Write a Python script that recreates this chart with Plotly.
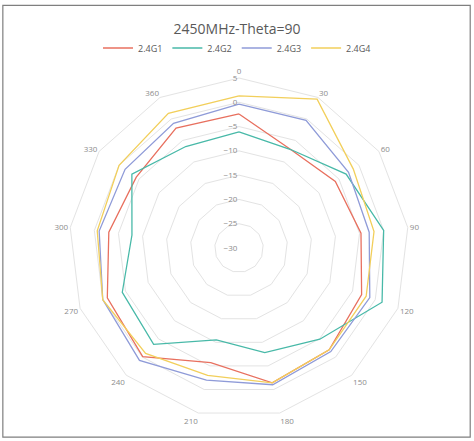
import plotly.graph_objects as go

categories = ["0", "30", "60", "90", "120", "150", "180", "210", "240", "270", "300", "330", "360"]
series_names = ["2.4G1", "2.4G2", "2.4G3", "2.4G4"]
g1 = [-2.4, -7.1, -5.9, -4.7, -3.0, -2.0, -1.4, -5.7, -0.1, -1.0, -3.0, -4.3, -2.1]
g2 = [-6.1, -7.1, -3.2, 0.0, 1.5, -4.9, -7.8, -10.5, -3.5, -4.3, -7.8, -3.2, -6.4]
g3 = [-0.4, -0.3, -2.6, -3.0, -1.2, -1.5, -1.0, -2.0, 0.9, 0.0, -1.0, -1.5, -1.0]
g4 = [1.3, 4.6, -1.4, -2.0, -2.0, -2.0, -1.4, -3.0, -1.0, 0.0, -0.6, 0.0, 1.3]
radial_ticks = [-30, -25, -20, -15, -10, -5, 0, 5]

colors = ["#E8705F", "#48B9A8", "#8F9BD8", "#F2CF5B"]

W, H = 474, 441
cx, cy, R = 239, 248, 170

fig = go.Figure()
for name, vals, col in zip(series_names, [g1, g2, g3, g4], colors):
    fig.add_trace(go.Scatterpolar(
        r=vals + vals[:1], theta=categories + categories[:1],
        mode="lines", name=name, line=dict(color=col, width=1.3),
    ))

fig.update_layout(
    width=W, height=H,
    margin=dict(l=0, r=0, t=0, b=0),
    paper_bgcolor="white", plot_bgcolor="white",
    font=dict(family="Open Sans", color="#595959"),
    title=dict(text="2450MHz-Theta=90", x=0.5, xanchor="center",
               y=1 - 29 / H, yanchor="middle",
               font=dict(size=14, color="#595959")),
    legend=dict(orientation="h", x=0.5, xanchor="center", y=1 - 48 / H, yanchor="middle",
                font=dict(size=9, color="#595959"), itemwidth=30, tracegroupgap=0),
    polar=dict(
        domain=dict(x=[(cx - R) / W, (cx + R) / W], y=[(H - cy - R) / H, (H - cy + R) / H]),
        bgcolor="white",
        gridshape="linear",
        angularaxis=dict(type="category", rotation=90, direction="clockwise",
                         showgrid=False, showline=True, linecolor="#E3E3E3",
                         ticks="", tickfont=dict(size=8, color="#8C8C8C")),
        radialaxis=dict(range=[-30, 5], tickvals=radial_ticks, angle=90, tickangle=90,
                        side="counterclockwise", showline=False, ticks="",
                        gridcolor="#E3E3E3", tickfont=dict(size=8, color="#8C8C8C")),
    ),
    shapes=[dict(type="rect", xref="paper", yref="paper", x0=0.006, x1=0.992, y0=0.009, y1=0.988,
                 line=dict(color="#7F7F7F", width=1.2))],
)

fig.write_html("out.html", config={"displayModeBar": False},
               post_script="document.body.style.margin='0px';document.body.style.overflow='hidden';")
